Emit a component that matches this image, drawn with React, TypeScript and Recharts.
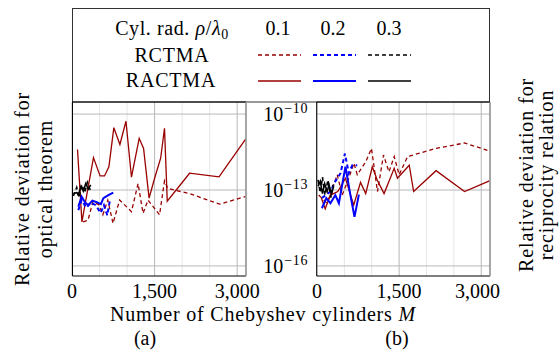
import { LineChart, Line, XAxis, YAxis, ReferenceLine } from 'recharts';

/* Serif stand-in for the Computer Modern look of the original figure. */
const FONT = 'Liberation Serif, DejaVu Serif, serif';
const INK = '#000000';
const RED = '#990000';
const BLUE = '#0000ff';
const BLACK = '#000000';
const GRID_MAJOR = '#b8b8b8';
const GRID_MINOR = '#e6e6e6';
const FRAME_RIGHT = '#8a8a8a';

const X_TICKS = [0, 1500, 3000];
const X_MINOR = [500, 1000, 2000, 2500];
const Y_TICKS = [1e-16, 1e-13, 1e-10];
const RADII = ['0.1', '0.2', '0.3'];

type Pt = [number, number];

// (a) optical theorem — [M, relative deviation]
const otRctma01: Pt[] = [
  [200, 5.5e-15], [290, 6.3e-15], [380, 3.5e-14], [490, 2.6e-14], [560, 1.05e-14],
  [650, 4.0e-14], [745, 4.8e-15], [865, 4.0e-14], [1080, 1.4e-14], [1200, 1.8e-13],
  [1290, 1.2e-14], [1380, 4.0e-14], [1590, 1.05e-14], [1680, 2.3e-13], [1740, 1.15e-13],
  [2135, 7.2e-14], [2680, 2.75e-14], [3150, 5.5e-14],
];
const otRactma01: Pt[] = [
  [100, 4.0e-12], [180, 5.5e-15], [390, 1.9e-12], [510, 3.6e-13], [590, 3.6e-13],
  [670, 8.3e-13], [760, 2.9e-11], [870, 6.3e-12], [980, 5.2e-11], [1080, 3.2e-13],
  [1220, 1.1e-11], [1300, 4.4e-12], [1400, 4.8e-14], [1500, 2.9e-13], [1610, 1.8e-12],
  [1680, 2.75e-11], [1730, 3.6e-14], [2135, 4.6e-13], [2670, 3.3e-13], [3150, 1.0e-11],
];
const otRctma02: Pt[] = [
  [115, 1.6e-14], [175, 4.0e-14], [260, 2.0e-14], [340, 3.2e-14], [430, 2.5e-14],
  [520, 1.25e-14], [580, 2.5e-14], [640, 1.0e-14], [690, 4.0e-14],
];
const otRactma02: Pt[] = [
  [115, 2.2e-14], [175, 5.5e-14], [235, 3.3e-14], [295, 2.5e-14], [370, 3.8e-14],
  [450, 3.3e-14], [525, 2.75e-14], [570, 4.8e-14], [660, 6.3e-14], [750, 7.9e-14],
];
const otRctma03: Pt[] = [
  [25, 5.8e-14], [85, 1.26e-13], [130, 5.0e-14], [180, 1.6e-13], [230, 7.9e-14],
  [280, 2.0e-13], [330, 1.0e-13],
];
const otRactma03: Pt[] = [
  [25, 7.2e-14], [85, 7.9e-14], [115, 6.3e-14], [165, 1.4e-13], [205, 9.1e-14],
  [250, 1.8e-13], [295, 1.1e-13], [340, 1.6e-13],
];

// (b) reciprocity relation — [M, relative deviation]
const rrRctma01: Pt[] = [
  [30, 6.3e-14], [185, 3.0e-14], [370, 4.0e-13], [460, 6.3e-14], [580, 2.9e-13],
  [675, 1.15e-12], [735, 4.0e-13], [890, 1.3e-12], [995, 4.4e-12], [1105, 8.7e-14],
  [1215, 2.4e-12], [1315, 5.2e-13], [1410, 2.1e-12], [1500, 4.0e-13], [1655, 2.1e-12],
  [2175, 4.4e-12], [2695, 7.2e-12], [3150, 3.5e-12],
];
const rrRactma01: Pt[] = [
  [80, 4.8e-14], [150, 1.8e-14], [245, 6.3e-14], [380, 8.7e-14], [520, 2.9e-13],
  [670, 2.5e-14], [795, 2.0e-13], [890, 7.2e-14], [1010, 8.3e-13], [1100, 2.5e-13],
  [1225, 7.2e-14], [1410, 7.2e-13], [1470, 2.9e-13], [1685, 9.5e-13], [1765, 8.7e-14],
  [2175, 5.8e-13], [2695, 8.7e-14], [3150, 2.3e-13],
];
const rrRctma02: Pt[] = [
  [90, 4.8e-14], [245, 8.7e-14], [335, 2.2e-13], [430, 4.6e-13], [510, 2.75e-12],
  [580, 4.6e-13], [645, 9.5e-13], [735, 9.5e-13],
];
const rrRactma02: Pt[] = [
  [90, 1.9e-14], [170, 4.8e-14], [245, 3.0e-14], [335, 6.3e-14], [400, 3.0e-14],
  [460, 1.6e-13], [520, 8.3e-13], [610, 6.3e-14], [685, 8.7e-15], [765, 6.6e-14],
];
const rrRctma03: Pt[] = [
  [20, 2.5e-13], [60, 7.9e-14], [100, 3.2e-13], [145, 6.3e-14], [200, 2.5e-13],
  [255, 5.0e-14], [290, 1.6e-13],
];
const rrRactma03: Pt[] = [
  [20, 1.4e-13], [60, 2.2e-13], [100, 7.2e-14], [140, 1.8e-13], [185, 8.7e-14],
  [220, 1.6e-13], [265, 7.2e-14], [305, 1.4e-13],
];

type Series = { pts: Pt[]; color: string; width: number; dashed: boolean };

const toRows = (pts: Pt[]) => pts.map(([m, dev]) => ({ m, dev }));

const seriesA: Series[] = [
  { pts: otRctma01, color: RED, width: 1.3, dashed: true },
  { pts: otRactma01, color: RED, width: 1.3, dashed: false },
  { pts: otRctma02, color: BLUE, width: 2, dashed: true },
  { pts: otRactma02, color: BLUE, width: 2, dashed: false },
  { pts: otRctma03, color: BLACK, width: 1.6, dashed: true },
  { pts: otRactma03, color: BLACK, width: 1.6, dashed: false },
];
const seriesB: Series[] = [
  { pts: rrRctma01, color: RED, width: 1.3, dashed: true },
  { pts: rrRactma01, color: RED, width: 1.3, dashed: false },
  { pts: rrRctma02, color: BLUE, width: 2, dashed: true },
  { pts: rrRactma02, color: BLUE, width: 2, dashed: false },
  { pts: rrRctma03, color: BLACK, width: 1.6, dashed: true },
  { pts: rrRactma03, color: BLACK, width: 1.6, dashed: false },
];

const txt = { fontFamily: FONT };
const xTick = { fill: INK, fontSize: 20, style: txt };

function PowTick({ x, y, payload }: { x?: number; y?: number; payload?: { value: number } }) {
  if (x == null || y == null || !payload) return null;
  const exp = Math.round(Math.log10(payload.value));
  return (
    <text x={x - 1} y={y + 7} textAnchor="end" style={txt} fontSize={20} fill={INK}>
      10
      <tspan dy={-8} dx={1} fontSize={14} letterSpacing={0.6}>{`−${-exp}`}</tspan>
    </text>
  );
}

function Panel({
  series,
  left,
  marginLeft,
  marginRight,
  yTicks,
}: {
  series: Series[];
  left: number;
  marginLeft: number;
  marginRight: number;
  yTicks: boolean;
}) {
  return (
    <div style={{ position: 'absolute', left, top: 0, fontFamily: FONT }}>
      <LineChart
        width={260}
        height={330}
        margin={{ top: 102, right: marginRight, bottom: 24, left: marginLeft }}
      >
        <XAxis
          type="number"
          dataKey="m"
          domain={[0, 3160]}
          allowDataOverflow
          ticks={X_TICKS}
          tickFormatter={(v: number) => v.toLocaleString('en-US')}
          tick={xTick}
          tickLine={false}
          axisLine={false}
          height={30}
        />
        <YAxis
          type="number"
          scale="log"
          domain={[4e-17, 3e-10]}
          allowDataOverflow
          ticks={Y_TICKS}
          hide={!yTicks}
          width={77}
          tick={<PowTick />}
          tickLine={false}
          axisLine={false}
        />
        {X_MINOR.map((v) => (
          <ReferenceLine key={`mx${v}`} x={v} stroke={GRID_MINOR} strokeWidth={1} />
        ))}
        {X_TICKS.map((v) => (
          <ReferenceLine key={`Mx${v}`} x={v} stroke={GRID_MAJOR} strokeWidth={1} />
        ))}
        {Y_TICKS.map((v) => (
          <ReferenceLine key={`My${v}`} y={v} stroke={GRID_MAJOR} strokeWidth={1} />
        ))}
        {series.map((s, i) => (
          <Line
            key={i}
            data={toRows(s.pts)}
            dataKey="dev"
            type="linear"
            stroke={s.color}
            strokeWidth={s.width}
            strokeDasharray={s.dashed ? '4 3' : undefined}
            dot={false}
            activeDot={false}
            isAnimationActive={false}
          />
        ))}
      </LineChart>
    </div>
  );
}

function Label({ x, y, children, ls = 0.9 }: { x: number; y: number; children: React.ReactNode; ls?: number }) {
  return (
    <g transform={`translate(${x} ${y}) rotate(-90)`}>
      <text textAnchor="middle" dominantBaseline="central" fontSize={20} letterSpacing={ls} style={txt}>
        {children}
      </text>
    </g>
  );
}

function Overlay() {
  const lineX = [258, 313, 368];
  const colX = [278, 333, 389];
  const colors = [RED, BLUE, BLACK];
  const widths = [1.3, 2, 1.6];
  return (
    <svg
      width={560}
      height={360}
      style={{ position: 'absolute', left: 0, top: 0, pointerEvents: 'none', fontFamily: FONT }}
      fill={INK}
    >
      {/* legend box */}
      <rect x={72.5} y={8.5} width={417} height={93.5} fill="none" stroke="#333" strokeWidth={1} />
      <text x={172} y={35} textAnchor="middle" fontSize={20} letterSpacing={0.6} style={txt}>
        Cyl. rad.{' '}
        <tspan fontStyle="italic">ρ</tspan>/<tspan fontStyle="italic">λ</tspan>
        <tspan fontSize={14} dy={4}>0</tspan>
      </text>
      {RADII.map((r, i) => (
        <text key={r} x={colX[i]} y={35} textAnchor="middle" fontSize={20} style={txt}>
          {r}
        </text>
      ))}
      <text x={172} y={62} textAnchor="middle" fontSize={20} letterSpacing={0.8} style={txt}>RCTMA</text>
      <text x={171} y={87} textAnchor="middle" fontSize={20} letterSpacing={0.8} style={txt}>RACTMA</text>
      {lineX.map((x, i) => (
        <g key={x}>
          <line x1={x} x2={x + 43} y1={55} y2={55} stroke={colors[i]} strokeWidth={widths[i]} strokeDasharray="4 3" />
          <line x1={x} x2={x + 43} y1={81} y2={81} stroke={colors[i]} strokeWidth={widths[i]} />
        </g>
      ))}

      {/* panel frames */}
      {[[72.5, 246], [316.7, 490]].map(([l, r]) => (
        <g key={l}>
          <line x1={l} x2={r} y1={102} y2={102} stroke={INK} strokeWidth={1} />
          <line x1={l} x2={r} y1={276} y2={276} stroke={INK} strokeWidth={1} />
          <line x1={l} x2={l} y1={102} y2={276} stroke={INK} strokeWidth={1} />
          <line x1={r} x2={r} y1={102} y2={276} stroke={FRAME_RIGHT} strokeWidth={1.5} />
        </g>
      ))}

      {/* axis titles */}
      <text x={263} y={321} textAnchor="middle" fontSize={20} letterSpacing={0.8} style={txt}>
        Number of Chebyshev cylinders <tspan fontStyle="italic">M</tspan>
      </text>
      <text x={145} y={345} textAnchor="middle" fontSize={20} style={txt}>(a)</text>
      <text x={397} y={345} textAnchor="middle" fontSize={20} style={txt}>(b)</text>

      <Label x={22} y={189}>Relative deviation for</Label>
      <Label x={45} y={189}>optical theorem</Label>
      <Label x={526} y={175}>Relative deviation for</Label>
      <Label x={546} y={175}>reciprocity relation</Label>
    </svg>
  );
}

export default function App() {
  return (
    <div style={{ position: 'absolute', left: 0, top: 0, width: 560, height: 360, background: '#fff' }}>
      <Panel series={seriesA} left={0} marginLeft={72} marginRight={14} yTicks={false} />
      <Panel series={seriesB} left={240} marginLeft={0} marginRight={10} yTicks />
      <Overlay />
    </div>
  );
}
